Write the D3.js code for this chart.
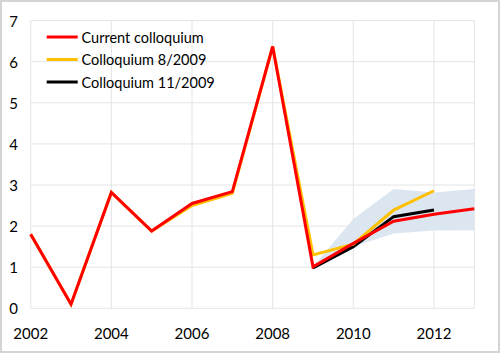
<!DOCTYPE html>
<html><head><meta charset="utf-8">
<script src="https://cdn.jsdelivr.net/npm/d3@7"></script>
<style>
html,body{margin:0;padding:0;background:#fff;}
svg{display:block;font-family:Lato,"Open Sans",sans-serif;}
</style></head>
<body>
<svg id="chart" width="500" height="353"></svg>
<script>
const years = [2002,2003,2004,2005,2006,2007,2008,2009,2010,2011,2012,2013];
const current = [1.80,0.10,2.82,1.88,2.55,2.84,6.37,1.01,1.58,2.12,2.29,2.42];
const aug2009Years = [2002,2003,2004,2005,2006,2007,2008,2009,2010,2011,2012];
const aug2009 = [1.80,0.10,2.82,1.88,2.50,2.80,6.37,1.30,1.56,2.39,2.86];
const nov2009Years = [2009,2010,2011,2012];
const nov2009 = [0.98,1.50,2.23,2.39];
const bandYears = [2009,2010,2011,2012,2013];
const bandLow = [1.00,1.50,1.82,1.89,1.90];
const bandHigh = [1.02,2.17,2.90,2.82,2.90];
const xTicks = [2002,2004,2006,2008,2010,2012];
const yTicks = [0,1,2,3,4,5,6,7];
const legendLabels = ["Current colloquium","Colloquium 8/2009","Colloquium 11/2009"];
const colors = ["#ff0000","#ffc000","#000000"];

const svg = d3.select("#chart");
const x = d3.scaleLinear().domain([2002,2013]).range([30.7,474.3]);
const y = d3.scaleLinear().domain([0,7]).range([308.3,20.6]);

// outer frame
svg.append("rect").attr("x",1).attr("y",1).attr("width",498).attr("height",351)
  .attr("fill","#fff").attr("stroke","#d4d4d4").attr("stroke-width",2);

// gridlines
const g = svg.append("g");
g.selectAll(".hg").data(yTicks).enter().append("line")
  .attr("x1",x(2002)).attr("x2",x(2013)).attr("y1",d=>y(d)).attr("y2",d=>y(d))
  .attr("stroke","#e4e4e4").attr("stroke-width",1);
g.selectAll(".vg").data(xTicks.concat([2013])).enter().append("line")
  .attr("x1",d=>x(d)).attr("x2",d=>x(d)).attr("y1",y(0)).attr("y2",y(7))
  .attr("stroke","#e4e4e4").attr("stroke-width",1);

// band
const bandData = bandYears.map((yr,i)=>({yr,lo:bandLow[i],hi:bandHigh[i]}));
svg.append("path").datum(bandData)
  .attr("d", d3.area().x(d=>x(d.yr)).y0(d=>y(d.lo)).y1(d=>y(d.hi)))
  .attr("fill","#dce6f0");

const line = d3.line().x(d=>x(d[0])).y(d=>y(d[1]));
function drawLine(xs, vs, color){
  svg.append("path").datum(xs.map((v,i)=>[v,vs[i]]))
    .attr("d",line).attr("fill","none").attr("stroke",color)
    .attr("stroke-width",3).attr("stroke-linejoin","miter");
}
drawLine(nov2009Years, nov2009, colors[2]);
drawLine(aug2009Years, aug2009, colors[1]);
drawLine(years, current, colors[0]);

// axes labels
svg.selectAll(".yl").data(yTicks).enter().append("text")
  .attr("x",18).attr("y",d=>y(d)+6).attr("text-anchor","end")
  .attr("font-size",15).attr("fill","#000").text(d=>d);
svg.selectAll(".xl").data(xTicks).enter().append("text")
  .attr("x",d=>x(d)).attr("y",339).attr("text-anchor","middle")
  .attr("font-size",15).attr("fill","#000").text(d=>d);

// legend
const lg = svg.append("g");
legendLabels.forEach((lab,i)=>{
  const ly = 37 + i*22.5;
  lg.append("line").attr("x1",46.7).attr("x2",77.7).attr("y1",ly).attr("y2",ly)
    .attr("stroke",colors[i]).attr("stroke-width",3);
  lg.append("text").attr("x",81.5).attr("y",ly+5.5).attr("font-size",14.5)
    .attr("fill","#000").text(lab);
});
</script>
</body></html>
